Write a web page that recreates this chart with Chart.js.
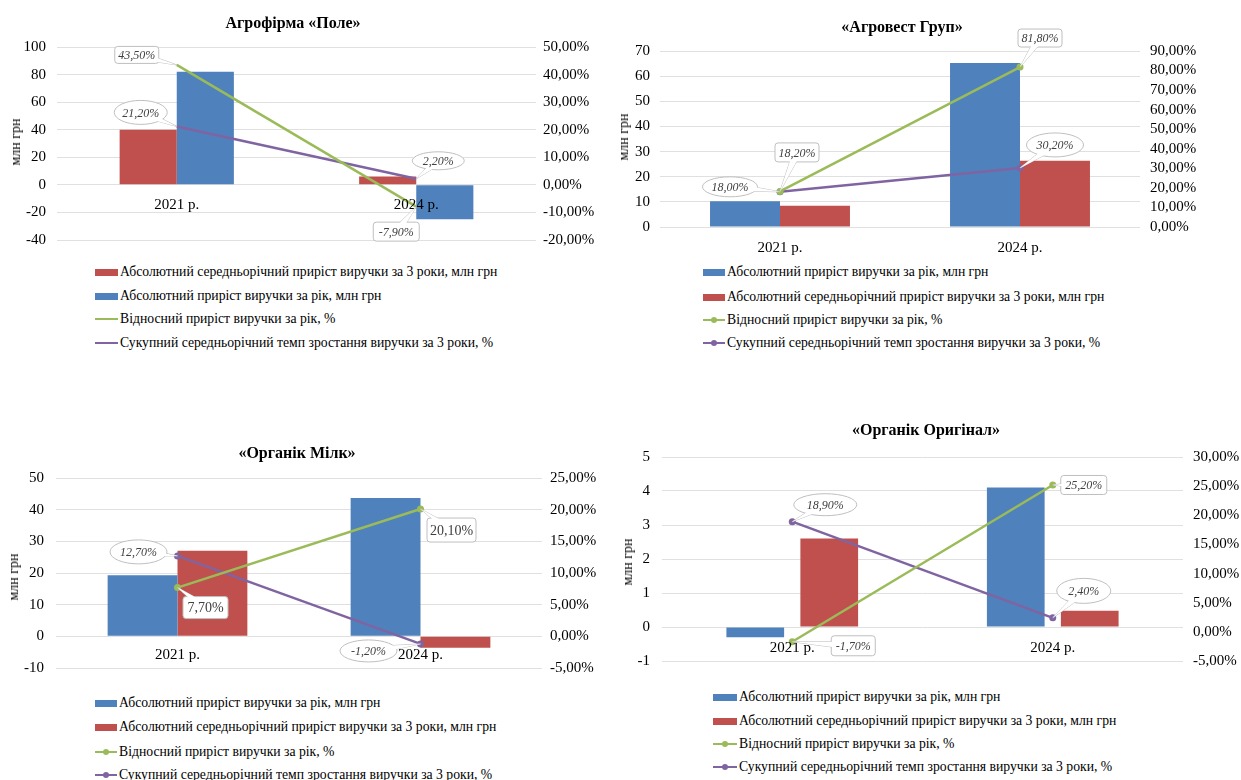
<!DOCTYPE html>
<html><head><meta charset="utf-8">
<script src="https://cdn.jsdelivr.net/npm/chart.js@4"></script>
<style>
body{margin:0;width:1241px;height:780px;overflow:hidden;background:#fff;position:relative;font-family:"Liberation Serif","Times New Roman",serif;color:#000;}
.wrap{position:absolute;}
.title{position:absolute;font-weight:bold;font-size:16px;transform:translate(-50%,-50%);white-space:nowrap;}
.ytitle{position:absolute;font-size:14px;transform:translate(-50%,-50%) rotate(-90deg);white-space:nowrap;}
.li{position:absolute;white-space:nowrap;font-size:13.7px;line-height:18px;transform:translateY(-50%);}
.sw{position:absolute;}
</style></head><body>
<script>
// ---------- DATA ----------
const categories = ['2021 р.', '2024 р.'];
const nameAbs  = 'Абсолютний приріст виручки за рік, млн грн';
const nameAvg  = 'Абсолютний середньорічний приріст виручки за 3 роки, млн грн';
const nameRel  = 'Відносний приріст виручки за рік, %';
const nameCagr = 'Сукупний середньорічний темп зростання виручки за 3 роки, %';
const yTitle = 'млн грн';

// Агрофірма «Поле»
const poleTitle = 'Агрофірма «Поле»';
const poleAbs  = [82, -25];
const poleAvg  = [40, 6];
const poleRel  = [43.5, -7.9];
const poleCagr = [21.2, 2.2];
const poleLeftTicks  = [-40, 100, 20];
const poleRightTicks = [-20, 50, 10];

// «Агровест Груп»
const agroTitle = '«Агровест Груп»';
const agroAbs  = [10.2, 65.2];
const agroAvg  = [8.5, 26.3];
const agroRel  = [18.2, 81.8];
const agroCagr = [18.0, 30.2];
const agroLeftTicks  = [0, 70, 10];
const agroRightTicks = [0, 90, 10];

// «Органік Мілк»
const milkTitle = '«Органік Мілк»';
const milkAbs  = [19.3, 43.7];
const milkAvg  = [27.0, -3.6];
const milkRel  = [7.7, 20.1];
const milkCagr = [12.7, -1.2];
const milkLeftTicks  = [-10, 50, 10];
const milkRightTicks = [-5, 25, 5];

// «Органік Оригінал»
const origTitle = '«Органік Оригінал»';
const origAbs  = [-0.3, 4.1];
const origAvg  = [2.6, 0.48];
const origRel  = [-1.7, 25.2];
const origCagr = [18.9, 2.4];
const origLeftTicks  = [-1, 5, 1];
const origRightTicks = [-5, 30, 5];

// ---------- STYLE ----------
const BLUE = '#4f81bd', RED = '#c0504d', GREEN = '#9bbb59', PURPLE = '#8064a2';
const FONT = '"Liberation Serif", "Times New Roman", serif';
const pct = v => v.toFixed(2).replace('.', ',') + '%';

const calloutPlugin = {
  id: 'callouts',
  afterDraw(chart) {
    const opts = chart.options.plugins.callouts || {};
    const ctx = chart.ctx;
    (opts.items || []).forEach(it => {
      const el = chart.getDatasetMeta(it.ds).data[it.i];
      const val = chart.data.datasets[it.ds].data[it.i];
      const px = el.x, py = el.y;
      const cx = px + it.dx, cy = py + it.dy, w = it.w, h = it.h;
      const ang = Math.atan2(py - cy, px - cx);
      const bw = 4;
      const nx = -Math.sin(ang) * bw, ny = Math.cos(ang) * bw;
      ctx.save();
      ctx.fillStyle = '#fff'; ctx.strokeStyle = '#bfbfbf'; ctx.lineWidth = 1;
      const wedge = () => { ctx.beginPath(); ctx.moveTo(cx + nx, cy + ny); ctx.lineTo(px, py); ctx.lineTo(cx - nx, cy - ny); ctx.closePath(); };
      wedge(); ctx.fill(); ctx.stroke();
      ctx.beginPath();
      if (it.shape === 'ellipse') ctx.ellipse(cx, cy, w / 2, h / 2, 0, 0, Math.PI * 2);
      else ctx.roundRect(cx - w / 2, cy - h / 2, w, h, 3);
      ctx.fill(); ctx.stroke();
      wedge(); ctx.fill();
      ctx.fillStyle = '#404040';
      ctx.font = (it.normal ? '' : 'italic ') + (it.size || 12) + 'px ' + FONT;
      ctx.textAlign = 'center'; ctx.textBaseline = 'middle';
      ctx.fillText(pct(val), cx, cy + 1);
      ctx.restore();
    });
  }
};

function place(el, x, y) { el.style.left = x + 'px'; el.style.top = y + 'px'; document.body.appendChild(el); return el; }

function makeChart(c) {
  const W = c.lw + (c.plotR - c.plotL) + c.rw;
  const H = c.pt + (c.plotB - c.plotT) + c.pb + (c.xAtZero ? 0 : c.xH);
  const wrap = document.createElement('div');
  wrap.className = 'wrap';
  wrap.style.width = W + 'px'; wrap.style.height = H + 'px';
  place(wrap, c.plotL - c.lw, c.plotT - c.pt);
  const cv = document.createElement('canvas');
  wrap.appendChild(cv);

  const t = document.createElement('div'); t.className = 'title'; t.textContent = c.title; place(t, c.titleX, c.titleY);
  const yt = document.createElement('div'); yt.className = 'ytitle'; yt.textContent = yTitle; place(yt, c.ytX, c.ytY);

  const barDs = (label, data, color) => ({ type: 'bar', label, data, backgroundColor: color, order: 2, yAxisID: 'y',
    barPercentage: c.barPct, categoryPercentage: c.catPct });
  const lineDs = (label, data, color) => ({ type: 'line', label, data, borderColor: color, backgroundColor: color, order: 1,
    yAxisID: 'y1', borderWidth: 2.5, pointRadius: c.markers ? 3.5 : 0, pointBorderWidth: 0, tension: 0 });

  const bars = c.bars.map(b => barDs(b[0], b[1], b[2]));
  const lines = [lineDs(nameRel, c.rel, GREEN), lineDs(nameCagr, c.cagr, PURPLE)];
  const datasets = bars.concat(lines);
  const nb = bars.length;
  const items = c.callouts.map(o => Object.assign({}, o, { ds: nb + o.line }));

  const tickFont = { family: FONT, size: 15 };
  new Chart(cv, {
    type: 'bar',
    data: { labels: categories, datasets },
    plugins: [calloutPlugin],
    options: {
      responsive: true, maintainAspectRatio: false, animation: false,
      layout: { padding: { top: c.pt, bottom: c.pb, left: 0, right: 0 } },
      plugins: { legend: { display: false }, tooltip: { enabled: false }, callouts: { items } },
      scales: {
        x: {
          position: c.xAtZero ? { y: 0 } : 'bottom',
          grid: { display: false, drawTicks: false }, border: { display: false },
          ticks: { z: 1, font: tickFont, color: '#000', padding: c.xPad, maxRotation: 0, autoSkip: false },
          afterFit: s => { if (!c.xAtZero) s.height = c.xH; }
        },
        y: {
          position: 'left', min: c.left[0], max: c.left[1],
          ticks: { stepSize: c.left[2], autoSkip: false, font: tickFont, color: '#000', padding: c.lpad, callback: v => String(v) },
          grid: { color: '#e0e0e0', drawTicks: false }, border: { display: false },
          afterFit: s => { s.width = c.lw; }
        },
        y1: {
          position: 'right', min: c.right[0], max: c.right[1],
          ticks: { stepSize: c.right[2], autoSkip: false, font: tickFont, color: '#000', padding: c.rpad, callback: v => pct(v) },
          grid: { display: false, drawTicks: false }, border: { display: false },
          afterFit: s => { s.width = c.rw; }
        }
      }
    }
  });

  // legend (HTML)
  c.legendOrder.forEach((k, idx) => {
    const y = c.legY[idx];
    const sw = document.createElement('div'); sw.className = 'sw';
    let label;
    if (k === 'abs' || k === 'avg') {
      label = k === 'abs' ? nameAbs : nameAvg;
      sw.style.width = c.swW + 'px'; sw.style.height = '7px';
      sw.style.background = k === 'abs' ? BLUE : RED;
      place(sw, c.swX, y - 3.5);
    } else {
      label = k === 'rel' ? nameRel : nameCagr;
      const col = k === 'rel' ? GREEN : PURPLE;
      sw.style.width = c.swW + 'px'; sw.style.height = '2px'; sw.style.background = col;
      place(sw, c.swX, y - 1);
      if (c.markers) {
        const dot = document.createElement('div'); dot.className = 'sw';
        dot.style.width = '6px'; dot.style.height = '6px'; dot.style.borderRadius = '50%'; dot.style.background = col;
        place(dot, c.swX + c.swW / 2 - 3, y - 3);
      }
    }
    const li = document.createElement('div'); li.className = 'li'; li.textContent = label;
    place(li, c.swX + c.swW + 2, y);
  });
}

makeChart({
  title: poleTitle, titleX: 293, titleY: 23, ytX: 16, ytY: 142,
  plotL: 57, plotR: 536, plotT: 47, plotB: 245, lw: 40, rw: 70, pt: 25, pb: 15, xAtZero: true, xPad: 11, xH: 0,
  lpad: 11, rpad: 7, left: poleLeftTicks, right: poleRightTicks, barPct: 1.0, catPct: 0.477, markers: false,
  bars: [[nameAvg, poleAvg, RED], [nameAbs, poleAbs, BLUE]], rel: poleRel, cagr: poleCagr,
  callouts: [
    { line: 0, i: 0, dx: -40, dy: -10, w: 44, h: 17, shape: 'rect' },
    { line: 1, i: 0, dx: -36, dy: -14, w: 53, h: 24, shape: 'ellipse' },
    { line: 1, i: 1, dx: 22, dy: -18, w: 52, h: 18, shape: 'ellipse' },
    { line: 0, i: 1, dx: -20, dy: 25, w: 46, h: 19, shape: 'rect' }
  ],
  legendOrder: ['avg', 'abs', 'rel', 'cagr'], swX: 95, swW: 23, legY: [272, 296, 319, 343]
});

makeChart({
  title: agroTitle, titleX: 902, titleY: 27, ytX: 624, ytY: 137,
  plotL: 660, plotR: 1140, plotT: 51, plotB: 227, lw: 40, rw: 70, pt: 25, pb: 0, xAtZero: false, xPad: 12, xH: 35,
  lpad: 10, rpad: 10, left: agroLeftTicks, right: agroRightTicks, barPct: 1.0, catPct: 0.583, markers: true,
  bars: [[nameAbs, agroAbs, BLUE], [nameAvg, agroAvg, RED]], rel: agroRel, cagr: agroCagr,
  callouts: [
    { line: 0, i: 1, dx: 20, dy: -29, w: 44, h: 18, shape: 'rect' },
    { line: 0, i: 0, dx: 17, dy: -39, w: 44, h: 19, shape: 'rect' },
    { line: 1, i: 0, dx: -50, dy: -5, w: 55, h: 20, shape: 'ellipse' },
    { line: 1, i: 1, dx: 35, dy: -23, w: 57, h: 24, shape: 'ellipse' }
  ],
  legendOrder: ['abs', 'avg', 'rel', 'cagr'], swX: 703, swW: 22, legY: [272, 297, 320, 343]
});

makeChart({
  title: milkTitle, titleX: 297, titleY: 453, ytX: 14, ytY: 577,
  plotL: 56, plotR: 542, plotT: 478, plotB: 674, lw: 40, rw: 70, pt: 25, pb: 15, xAtZero: true, xPad: 10, xH: 0,
  lpad: 12, rpad: 8, left: milkLeftTicks, right: milkRightTicks, barPct: 1.0, catPct: 0.575, markers: true,
  bars: [[nameAbs, milkAbs, BLUE], [nameAvg, milkAvg, RED]], rel: milkRel, cagr: milkCagr,
  callouts: [
    { line: 1, i: 0, dx: -39, dy: -4, w: 57, h: 24, shape: 'ellipse' },
    { line: 0, i: 0, dx: 28, dy: 20, w: 45, h: 22, shape: 'rect', normal: true, size: 14 },
    { line: 0, i: 1, dx: 31, dy: 21, w: 49, h: 24, shape: 'rect', normal: true, size: 14 },
    { line: 1, i: 1, dx: -52, dy: 7, w: 57, h: 22, shape: 'ellipse' }
  ],
  legendOrder: ['abs', 'avg', 'rel', 'cagr'], swX: 95, swW: 22, legY: [703, 727, 752, 775]
});

makeChart({
  title: origTitle, titleX: 926, titleY: 430, ytX: 628, ytY: 562,
  plotL: 662, plotR: 1183, plotT: 457, plotB: 667, lw: 40, rw: 58, pt: 25, pb: 15, xAtZero: true, xPad: 12, xH: 0,
  lpad: 12, rpad: 10, left: origLeftTicks, right: origRightTicks, barPct: 0.78, catPct: 0.568, markers: true,
  bars: [[nameAbs, origAbs, BLUE], [nameAvg, origAvg, RED]], rel: origRel, cagr: origCagr,
  callouts: [
    { line: 1, i: 0, dx: 33, dy: -17, w: 63, h: 22, shape: 'ellipse' },
    { line: 0, i: 0, dx: 61, dy: 4, w: 44, h: 20, shape: 'rect' },
    { line: 0, i: 1, dx: 31, dy: 0, w: 46, h: 19, shape: 'rect' },
    { line: 1, i: 1, dx: 31, dy: -27, w: 54, h: 25, shape: 'ellipse' }
  ],
  legendOrder: ['abs', 'avg', 'rel', 'cagr'], swX: 713, swW: 24, legY: [697, 721, 744, 767]
});
</script>
</body></html>
